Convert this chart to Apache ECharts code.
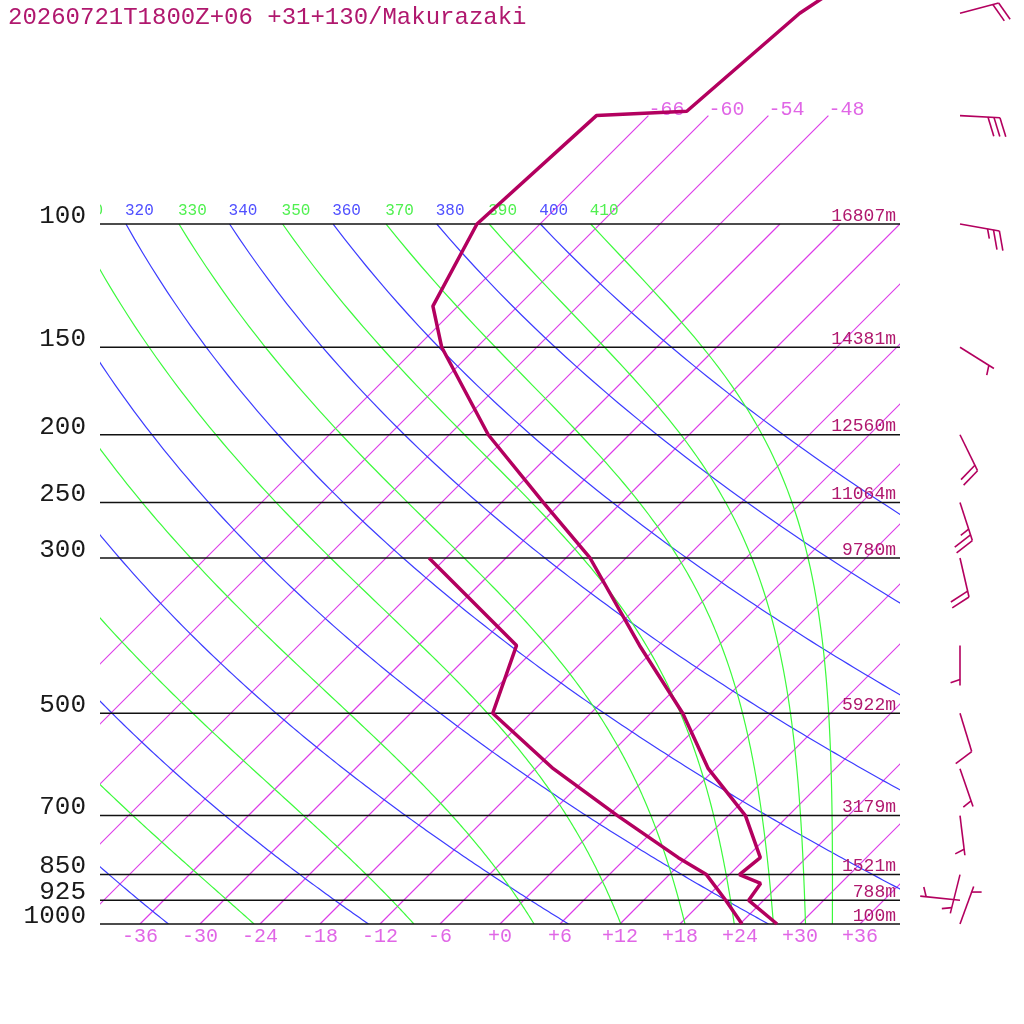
<!DOCTYPE html>
<html lang="en">
<head>
<meta charset="UTF-8">
<title>Makurazaki sounding</title>
<style>
  html, body { margin: 0; padding: 0; background: #fff; }
  #chart { width: 1024px; height: 1024px; }
</style>
</head>
<body>
<div id="chart"></div>
<script src="https://cdn.jsdelivr.net/npm/echarts@6/dist/echarts.min.js"></script>
<script>
// sounding: pressure (hPa), temperature / dewpoint (degC)
const tempLevels = [1000, 925, 875, 850, 804, 700, 600, 500, 400, 300, 250, 200, 150, 131, 100, 70, 69, 50, 40];
const tempValues = [27.7, 22.5, 22.0, 19.0, 19.4, 13.7, 5.3, -2.8, -13.9, -27.6, -37.8, -50.1, -63.5, -68.5, -72.3, -71.2, -62.6, -61.1, -57.7];
const dewLevels = [1000, 925, 850, 804, 700, 600, 500, 400, 300];
const dewValues = [24.2, 20.2, 15.7, 11.2, 0.9, -10.2, -21.8, -26.2, -43.7];

// winds: direction (deg, from) and speed (kt)
const windLevels = [1000, 925, 850, 700, 600, 500, 400, 300, 250, 200, 150, 100, 70, 50];
const windDir = [20, 276, 194, 173, 161, 163, 180, 167, 162, 154, 122, 100, 93, 75];
const windSpeed = [5, 5, 5, 5, 5, 10, 5, 20, 25, 20, 5, 25, 30, 20];

// isobars and their heights
const isobarLevels = [100, 150, 200, 250, 300, 500, 700, 850, 925, 1000];
const heightLabels = ['16807m', '14381m', '12560m', '11064m', '9780m', '5922m', '3179m', '1521m', '788m', '100m'];

// background lines
const isotherms = [-66, -60, -54, -48, -42, -36, -30, -24, -18, -12, -6, 0, 6, 12, 18, 24, 30, 36];
const labelledIsotherms = [-66, -60, -54, -48];
const dryAdiabats = [240, 260, 280, 300, 320, 340, 360, 380, 400];
const moistAdiabats = [250, 270, 290, 310, 330, 350, 370, 390, 410];
const tempTicks = [-36, -30, -24, -18, -12, -6, 0, 6, 12, 18, 24, 30, 36];

const SKEW = 30.4;    // degC shift per e-fold of pressure (45 deg skew)
const P_TOP = 47.86;  // pressure at the top edge of the canvas

const PROFILE = '#b3005f';
const TEXT_RED = '#b0186e';
const PINK = '#e066e6';
const ISO_T = '#dc3ce8';
const BLUE = '#3c3cff';
const GREEN = '#3cfa3c';

function skewX(t, p) {
  return t + SKEW * Math.log(1000 / p);
}

function thetaES(tc, p) {
  const es = 6.112 * Math.exp(17.67 * tc / (tc + 243.5));
  if (es > 0.8 * p) return Infinity;
  const r = 622 * es / (p - es);
  const tk = tc + 273.15;
  return tk * Math.pow(1000 / p, 0.2854 * (1 - 0.00028 * r)) *
    Math.exp((3.376 / tk - 0.00254) * r * (1 + 0.00081 * r));
}

function tempForThetaES(th, p) {
  let lo = -160, hi = 60;
  for (let i = 0; i < 60; i++) {
    const mid = (lo + hi) / 2;
    if (thetaES(mid, p) > th) hi = mid; else lo = mid;
  }
  return (lo + hi) / 2;
}

function tempForTheta(th, p) {
  return th * Math.pow(p / 1000, 0.2857) - 273.15;
}

const pGrid = [];
for (let p = 1000; p >= 100; p -= 5) pGrid.push(p);

// background curves: one custom series, each item is a polyline in (skewX, p)
const bgCurves = [];
isotherms.forEach(t => {
  const top = labelledIsotherms.includes(t) ? 70 : 100;
  bgCurves.push({ color: ISO_T, pts: [[skewX(t, 1000), 1000], [skewX(t, top), top]] });
});
dryAdiabats.forEach(th => {
  bgCurves.push({ color: BLUE, pts: pGrid.map(p => [skewX(tempForTheta(th, p), p), p]) });
});
moistAdiabats.forEach(th => {
  bgCurves.push({ color: GREEN, pts: pGrid.map(p => [skewX(tempForThetaES(th, p), p), p]) });
});

const series = [];

series.push({
  type: 'custom', silent: true, clip: true, z: 1,
  data: bgCurves.map((c, i) => [0, 1000, i]),
  renderItem: (params, api) => {
    const c = bgCurves[api.value(2)];
    return {
      type: 'polyline',
      shape: { points: c.pts.map(q => api.coord(q)) },
      style: { stroke: c.color, lineWidth: 1.2, fill: null }
    };
  }
});

// theta labels along 100 hPa
const thetaLabelData = dryAdiabats.map(th => [skewX(tempForTheta(th, 100), 100), 100, th, 0])
  .concat(moistAdiabats.map(th => [skewX(tempForThetaES(th, 100), 100), 100, th, 1]));
series.push({
  type: 'custom', silent: true, clip: true, z: 3,
  data: thetaLabelData,
  renderItem: (params, api) => {
    const pt = api.coord([api.value(0), api.value(1)]);
    return {
      type: 'text', x: pt[0] - 1, y: pt[1] - 5,
      style: {
        text: String(api.value(2)), fill: api.value(3) ? '#50f050' : '#5050ff',
        fontSize: 16, fontFamily: 'Liberation Mono', align: 'left', verticalAlign: 'bottom'
      }
    };
  }
});

// isotherm labels at the top
series.push({
  type: 'custom', silent: true, clip: false, z: 3,
  data: labelledIsotherms.map(t => [skewX(t, 70), 70, t]),
  renderItem: (params, api) => {
    const pt = api.coord([api.value(0), api.value(1)]);
    return {
      type: 'text', x: pt[0], y: pt[1] - 6,
      style: {
        text: String(api.value(2)), fill: PINK,
        fontSize: 20, fontFamily: 'Liberation Mono', align: 'left', verticalAlign: 'middle'
      }
    };
  }
});

// isobars with pressure and height labels
series.push({
  type: 'custom', silent: true, clip: false, z: 4,
  data: isobarLevels.map((p, i) => [0, p, i]),
  renderItem: (params, api) => {
    const p = api.value(1);
    const i = api.value(2);
    const l = api.coord([-40, p]);
    const r = api.coord([40, p]);
    return {
      type: 'group',
      children: [
        { type: 'line', shape: { x1: l[0], y1: l[1], x2: r[0], y2: r[1] },
          style: { stroke: '#111', lineWidth: 1.5 } },
        { type: 'text', x: l[0] - 14, y: l[1] - 8,
          style: { text: String(p), fill: '#1a1a1a', fontSize: 26, fontFamily: 'Liberation Mono',
            align: 'right', verticalAlign: 'middle' } },
        { type: 'text', x: r[0] - 4, y: r[1] - 8,
          style: { text: heightLabels[i], fill: TEXT_RED, fontSize: 18, fontFamily: 'Liberation Mono',
            align: 'right', verticalAlign: 'middle' } }
      ]
    };
  }
});

// temperature and dewpoint
series.push({
  type: 'line', silent: true, showSymbol: false, clip: true, z: 6, color: PROFILE,
  lineStyle: { color: PROFILE, width: 3.5 },
  data: dewLevels.map((p, i) => [skewX(dewValues[i], p), p])
});
series.push({
  type: 'line', silent: true, showSymbol: false, clip: true, z: 6, color: PROFILE,
  lineStyle: { color: PROFILE, width: 3.5 },
  data: tempLevels.map((p, i) => [skewX(tempValues[i], p), p])
});

// wind barbs, in a column right of the diagram
series.push({
  type: 'custom', silent: true, clip: false, z: 5,
  data: windLevels.map((p, i) => [46, p, windDir[i], windSpeed[i]]),
  renderItem: (params, api) => {
    const b = api.coord([api.value(0), api.value(1)]);
    const dir = api.value(2) * Math.PI / 180;
    const spd = api.value(3);
    const ux = Math.sin(dir), uy = -Math.cos(dir);
    const a = 70 * Math.PI / 180;
    const vx = ux * Math.cos(a) - uy * Math.sin(a);
    const vy = ux * Math.sin(a) + uy * Math.cos(a);
    const L = 40, step = 6;
    const tip = [b[0] + L * ux, b[1] + L * uy];
    const segs = [[b[0], b[1], tip[0], tip[1]]];
    const full = Math.floor(spd / 10);
    const half = spd % 10 >= 5;
    let d = (full === 0 && half) ? step : 0;
    for (let k = 0; k < full; k++) {
      const x = tip[0] - d * ux, y = tip[1] - d * uy;
      segs.push([x, y, x + 20 * vx, y + 20 * vy]);
      d += step;
    }
    if (half) {
      const x = tip[0] - d * ux, y = tip[1] - d * uy;
      segs.push([x, y, x + 10 * vx, y + 10 * vy]);
    }
    return {
      type: 'group',
      children: segs.map(s => ({
        type: 'line', shape: { x1: s[0], y1: s[1], x2: s[2], y2: s[3] },
        style: { stroke: PROFILE, lineWidth: 1.6 }
      }))
    };
  }
});

const chart = echarts.init(document.getElementById('chart'));
chart.setOption({
  animation: false,
  backgroundColor: '#fff',
  title: {
    text: '20260721T1800Z+06 +31+130/Makurazaki',
    left: 8, top: 6, padding: 0,
    textStyle: { fontFamily: 'Liberation Mono', fontSize: 24, fontWeight: 'normal', color: TEXT_RED }
  },
  grid: { left: 100, right: 124, top: 0, bottom: 100, outerBoundsMode: 'none' },
  xAxis: {
    type: 'value', min: -40, max: 40,
    axisLine: { show: false }, axisTick: { show: false }, splitLine: { show: false },
    axisLabel: {
      customValues: tempTicks, margin: 3,
      color: PINK, fontSize: 20, fontFamily: 'Liberation Mono',
      formatter: v => (v >= 0 ? '+' + v : String(v))
    }
  },
  yAxis: {
    type: 'log', logBase: 10, min: P_TOP, max: 1000, inverse: true,
    axisLine: { show: false }, axisTick: { show: false }, splitLine: { show: false },
    axisLabel: { show: false }
  },
  series: series
});
</script>
</body>
</html>
